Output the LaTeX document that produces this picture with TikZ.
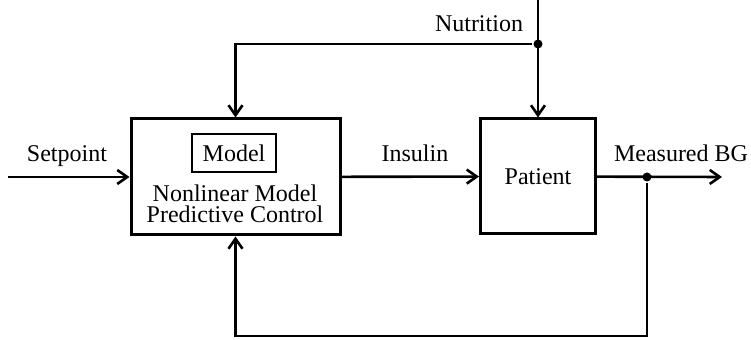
\documentclass[tikz,border=0pt]{standalone}
\usepackage{fontspec}
\setmainfont{Liberation Serif}
\usetikzlibrary{arrows.meta,positioning}

\begin{document}
\begin{tikzpicture}[->,>={Straight Barb[length=5pt,width=7pt]},line width=1.3pt,
                    x=0.5pt,y=-0.5pt,font=\fontsize{12}{10.8}\selectfont]
  \tikzstyle{block}=[draw,line width=1.5pt,inner sep=0pt]
  \tikzstyle{modelbox}=[draw,line width=0.8pt,minimum width=42pt,minimum height=19pt,inner sep=0pt]
  \tikzstyle{junction}=[circle,fill,inner sep=0pt,minimum size=4.5pt]
  \tikzstyle{signal}=[inner sep=0pt,anchor=base]

  \useasboundingbox (0,0) rectangle (751,340);

  \node[block,minimum width=104.5pt,minimum height=58pt] (ctrl) at (235.5,177) {};
  \node[block,minimum width=57.5pt,minimum height=57.5pt] (patient) at (538,176.5) {Patient};
  \node[modelbox] (model) at (234,153) {Model};
  \node[inner sep=0pt,align=center,anchor=base] (nmpc) at (235,223) {Nonlinear Model\\Predictive Control};

  \node[signal] (setpoint)  at (67,162)  {Setpoint};
  \node[signal] (insulin)   at (415,162) {Insulin};
  \node[signal] (measured)  at (681,162) {Measured BG};
  \node[signal] (nutrition) at (479,32)  {Nutrition};

  \coordinate (in)   at (8,177);
  \coordinate (out)  at (722,177);
  \coordinate (food) at (538,0);
  \coordinate (low)  at (647,336);
  \node[junction] (split) at (538,44) {};
  \node[junction] (tap)   at (647,177) {};

  \path (in)      edge (ctrl)
        (ctrl)    edge (patient)
        (patient) edge (out)
        (food)    edge (patient);
  \draw (split) -| (ctrl.north);
  \draw (tap) -- (low) -| (ctrl.south);
\end{tikzpicture}
\end{document}
